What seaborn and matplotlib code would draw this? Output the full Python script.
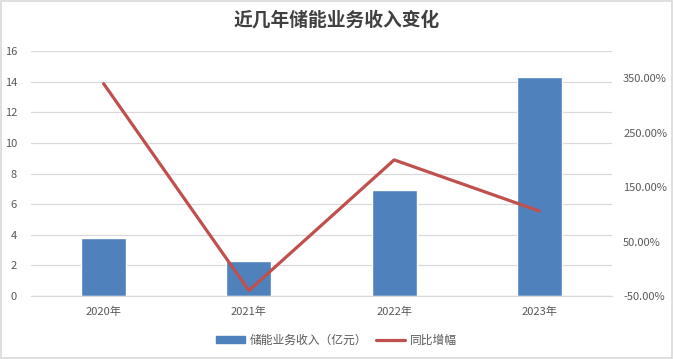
import matplotlib
matplotlib.use("Agg")
import matplotlib.pyplot as plt
import seaborn as sns
import pandas as pd
from matplotlib.patches import Rectangle, Patch
from matplotlib.lines import Line2D
from matplotlib.ticker import FuncFormatter

years = ["2020年", "2021年", "2022年", "2023年"]
revenue = [3.81, 2.29, 6.95, 14.32]
growth = [3.40, -0.40, 2.00, 1.06]
left_ticks = [0, 2, 4, 6, 8, 10, 12, 14, 16]
right_ticks = [-0.5, 0.5, 1.5, 2.5, 3.5]

sns.set_theme(style="white")
plt.rcParams['font.family'] = ['Noto Sans CJK SC', 'DejaVu Sans']

df = pd.DataFrame({"year": years, "revenue": revenue, "growth": growth})

fig = plt.figure(figsize=(6.73, 3.59), dpi=100)
ax = fig.add_axes([31/673, 1 - 296/359, (612-31)/673, (296-51)/359])

bar_color = "#4F81BD"
line_color = "#C0504D"
text_color = "#595959"
grid_color = "#D9D9D9"

sns.barplot(data=df, x="year", y="revenue", color=bar_color, width=0.31,
            saturation=1, ax=ax, zorder=2)
ax.set_xlim(-0.5, 3.5)
ax.set_ylim(0, 16)
ax.set_yticks(left_ticks)
ax.grid(axis="y", color=grid_color, linewidth=0.9, zorder=0)
ax.set_axisbelow(True)
for s in ["top", "left", "right"]:
    ax.spines[s].set_visible(False)
ax.spines["bottom"].set_color(grid_color)
ax.spines["bottom"].set_linewidth(0.9)
ax.set_xlabel("")
ax.set_ylabel("")
ax.tick_params(axis="both", length=0, labelsize=8, colors=text_color)
ax.tick_params(axis="x", pad=8)
ax.tick_params(axis="y", pad=10)

ax2 = ax.twinx()
sns.lineplot(data=df, x="year", y="growth", color=line_color, linewidth=2.3,
             ax=ax2, zorder=3)
ax2.set_ylim(-0.5, 4.0)
ax2.set_yticks(right_ticks)
ax2.yaxis.set_major_formatter(FuncFormatter(lambda v, p: f"{v*100:.2f}%"))
for s in ["top", "left", "right", "bottom"]:
    ax2.spines[s].set_visible(False)
ax2.set_ylabel("")
ax2.set_xlabel("")
ax2.tick_params(axis="y", length=0, labelsize=8, colors=text_color, pad=8)
ax2.set_xlim(-0.5, 3.5)

fig.text(0.5, 1 - 20/359, "近几年储能业务收入变化", ha="center", va="center",
         fontsize=13.5, fontweight="bold", color="#404040")

handles = [Patch(facecolor=bar_color, edgecolor=bar_color),
           Line2D([0], [0], color=line_color, linewidth=2.3)]
fig.legend(handles, ["储能业务收入（亿元）", "同比增幅"], loc="center",
           bbox_to_anchor=(0.5, 1 - 340/359), ncol=2, frameon=False,
           fontsize=8.5, labelcolor=text_color, handlelength=2.4,
           handleheight=0.6, columnspacing=0.8, handletextpad=0.4)

fig.patches.append(Rectangle((0.001, 0.002), 0.997, 0.996, transform=fig.transFigure,
                             fill=False, edgecolor=grid_color, linewidth=1.2))

fig.savefig("out.png", dpi=100)
